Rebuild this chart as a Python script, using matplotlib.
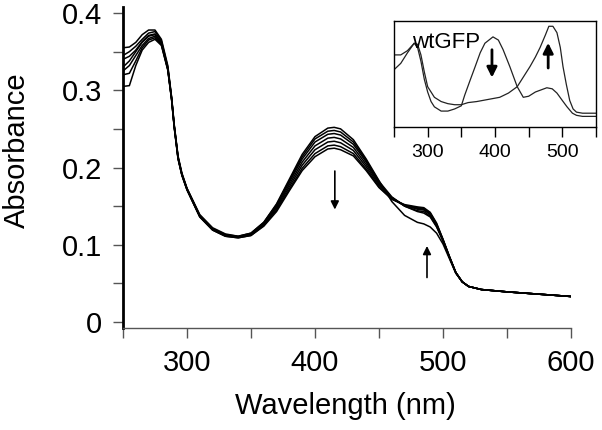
import matplotlib
matplotlib.use("Agg")
import matplotlib.pyplot as plt

plt.rcParams['font.family'] = ['Liberation Sans', 'DejaVu Sans']

# main spectra (nm / absorbance)
wavelength = [250, 255, 260, 265, 270, 275, 280, 285, 288, 290, 293, 296, 300,
              310, 320, 330, 340, 350, 360, 370, 380, 390, 400, 410, 415, 420,
              430, 440, 450, 460, 470, 480, 485, 490, 495, 500, 505, 510, 515,
              520, 530, 550, 575, 600]

spec1 = [0.345, 0.350, 0.357, 0.366, 0.374, 0.376, 0.364, 0.330, 0.290, 0.255, 0.214,
         0.192, 0.173, 0.138, 0.121, 0.113, 0.111, 0.115, 0.129, 0.153, 0.185, 0.217,
         0.240, 0.251, 0.252, 0.250, 0.236, 0.211, 0.183, 0.156, 0.138, 0.129, 0.127,
         0.123, 0.115, 0.101, 0.082, 0.063, 0.052, 0.046, 0.042, 0.039, 0.036, 0.033]
spec2 = [0.355, 0.356, 0.362, 0.372, 0.378, 0.378, 0.366, 0.332, 0.291, 0.256, 0.215,
         0.193, 0.173, 0.139, 0.122, 0.114, 0.111, 0.115, 0.129, 0.152, 0.183, 0.214,
         0.237, 0.247, 0.248, 0.246, 0.233, 0.209, 0.182, 0.162, 0.150, 0.143, 0.141,
         0.136, 0.123, 0.105, 0.084, 0.064, 0.052, 0.046, 0.042, 0.039, 0.036, 0.033]
spec3 = [0.330, 0.338, 0.350, 0.362, 0.370, 0.372, 0.362, 0.329, 0.289, 0.254, 0.213,
         0.191, 0.172, 0.137, 0.121, 0.113, 0.110, 0.114, 0.128, 0.151, 0.181, 0.211,
         0.233, 0.243, 0.244, 0.242, 0.230, 0.207, 0.180, 0.161, 0.150, 0.144, 0.143,
         0.137, 0.124, 0.105, 0.084, 0.064, 0.052, 0.046, 0.042, 0.039, 0.036, 0.033]
spec4 = [0.325, 0.332, 0.345, 0.358, 0.367, 0.370, 0.360, 0.327, 0.288, 0.253, 0.212,
         0.191, 0.172, 0.137, 0.120, 0.112, 0.110, 0.113, 0.127, 0.149, 0.178, 0.207,
         0.228, 0.238, 0.239, 0.237, 0.226, 0.204, 0.179, 0.161, 0.151, 0.146, 0.145,
         0.139, 0.125, 0.106, 0.084, 0.064, 0.052, 0.046, 0.042, 0.039, 0.036, 0.033]
spec5 = [0.340, 0.344, 0.352, 0.363, 0.371, 0.373, 0.362, 0.328, 0.289, 0.254, 0.213,
         0.191, 0.172, 0.137, 0.120, 0.112, 0.110, 0.113, 0.126, 0.147, 0.175, 0.203,
         0.223, 0.233, 0.234, 0.232, 0.222, 0.201, 0.177, 0.160, 0.151, 0.147, 0.146,
         0.140, 0.126, 0.106, 0.084, 0.064, 0.052, 0.046, 0.042, 0.039, 0.036, 0.033]
spec6 = [0.320, 0.322, 0.338, 0.355, 0.365, 0.368, 0.359, 0.327, 0.288, 0.253, 0.212,
         0.190, 0.171, 0.136, 0.119, 0.111, 0.109, 0.112, 0.125, 0.145, 0.172, 0.199,
         0.218, 0.228, 0.229, 0.227, 0.218, 0.198, 0.175, 0.159, 0.151, 0.148, 0.147,
         0.141, 0.127, 0.107, 0.085, 0.064, 0.052, 0.046, 0.042, 0.039, 0.036, 0.033]
spec7 = [0.305, 0.306, 0.332, 0.352, 0.362, 0.366, 0.358, 0.326, 0.287, 0.252, 0.211,
         0.190, 0.171, 0.136, 0.119, 0.111, 0.109, 0.112, 0.124, 0.143, 0.170, 0.196,
         0.214, 0.224, 0.225, 0.223, 0.215, 0.196, 0.174, 0.159, 0.152, 0.149, 0.148,
         0.142, 0.128, 0.107, 0.085, 0.064, 0.052, 0.046, 0.042, 0.039, 0.036, 0.033]
spectra = [spec1, spec2, spec3, spec4, spec5, spec6, spec7]

xticks = [250, 300, 350, 400, 450, 500, 550, 600]
xticklabels = ["", "300", "", "400", "", "500", "", "600"]
yticks = [0, 0.05, 0.1, 0.15, 0.2, 0.25, 0.3, 0.35, 0.4]
yticklabels = ["0", "", "0.1", "", "0.2", "", "0.3", "", "0.4"]

# inset (wtGFP), normalised absorbance
inset_wl_a = [250, 260, 270, 280, 285, 290, 295, 300, 305, 310, 320, 330, 340, 350,
              355, 363, 370, 378, 385, 397, 405, 412, 422, 433, 442, 450, 460, 477,
              485, 492, 500, 507, 515, 521, 530, 550]
inset_a = [0.68, 0.68, 0.72, 0.79, 0.75, 0.62, 0.45, 0.33, 0.24, 0.19, 0.15, 0.15,
           0.17, 0.20, 0.30, 0.44, 0.56, 0.70, 0.79, 0.85, 0.82, 0.73, 0.57, 0.38,
           0.28, 0.29, 0.33, 0.37, 0.36, 0.32, 0.25, 0.19, 0.13, 0.11, 0.10, 0.10]
inset_wl_b = [250, 260, 270, 280, 285, 290, 295, 300, 310, 320, 330, 340, 350, 360,
              373, 390, 407, 420, 433, 445, 452, 460, 467, 475, 480, 486, 492, 497,
              501, 506, 511, 516, 521, 530, 550]
inset_b = [0.54, 0.60, 0.70, 0.79, 0.78, 0.68, 0.52, 0.38, 0.28, 0.24, 0.22, 0.21,
           0.21, 0.23, 0.24, 0.26, 0.28, 0.32, 0.38, 0.50, 0.57, 0.66, 0.75, 0.87,
           0.95, 0.95, 0.89, 0.75, 0.57, 0.40, 0.25, 0.17, 0.14, 0.13, 0.13]
inset_xticks = [250, 300, 350, 400, 450, 500, 550]
inset_xticklabels = ["", "300", "", "400", "", "500", ""]

fig = plt.figure(figsize=(6.02, 4.30), dpi=100)
ax = fig.add_axes([0.2043, 0.2372, 0.7442, 0.7465])

for s in spectra:
    ax.plot(wavelength, s, color='black', lw=1.1)

ax.set_xlim(250, 600)
ax.set_ylim(-0.0078, 0.4078)
ax.set_xticks(xticks)
ax.set_xticklabels(xticklabels)
ax.set_yticks(yticks)
ax.set_yticklabels(yticklabels)
ax.tick_params(axis='both', direction='out', length=7, width=1, color='#555555',
               labelsize=21, pad=8)
ax.spines['top'].set_visible(False)
ax.spines['right'].set_visible(False)
ax.spines['left'].set_linewidth(2)
ax.spines['left'].set_color('black')
ax.spines['bottom'].set_linewidth(1)
ax.spines['bottom'].set_color('#555555')

ax.set_xlabel("Wavelength (nm)", fontsize=21)
ax.xaxis.set_label_coords(0.4955, -0.20)
ax.set_ylabel("Absorbance", fontsize=21)
ax.yaxis.set_label_coords(-0.205, 0.555)

arrow = dict(arrowstyle='-|>', color='black', lw=1.2, mutation_scale=12)
ax.annotate("", xy=(415.5, 0.142), xytext=(415.5, 0.199), arrowprops=arrow)
ax.annotate("", xy=(487.5, 0.102), xytext=(487.5, 0.054), arrowprops=arrow)

# inset
ins = fig.add_axes([0.6545, 0.7047, 0.3355, 0.2465])
ins.plot(inset_wl_a, inset_a, color='#222222', lw=0.9)
ins.plot(inset_wl_b, inset_b, color='#222222', lw=0.9)
ins.set_xlim(250, 550)
ins.set_ylim(0, 1)
ins.set_xticks(inset_xticks)
ins.set_xticklabels(inset_xticklabels)
ins.set_yticks([])
ins.tick_params(axis='x', direction='out', length=7, width=1, labelsize=14, pad=5)
for sp in ins.spines.values():
    sp.set_linewidth(1)
ins.text(277, 0.745, "wtGFP", fontsize=16, va='baseline', ha='left')
arrow2 = dict(arrowstyle='-|>', color='black', lw=2, mutation_scale=15)
ins.annotate("", xy=(395.5, 0.44), xytext=(395.5, 0.755), arrowprops=arrow2)
ins.annotate("", xy=(479, 0.82), xytext=(479, 0.53), arrowprops=arrow2)

fig.savefig("out.png", dpi=100)
